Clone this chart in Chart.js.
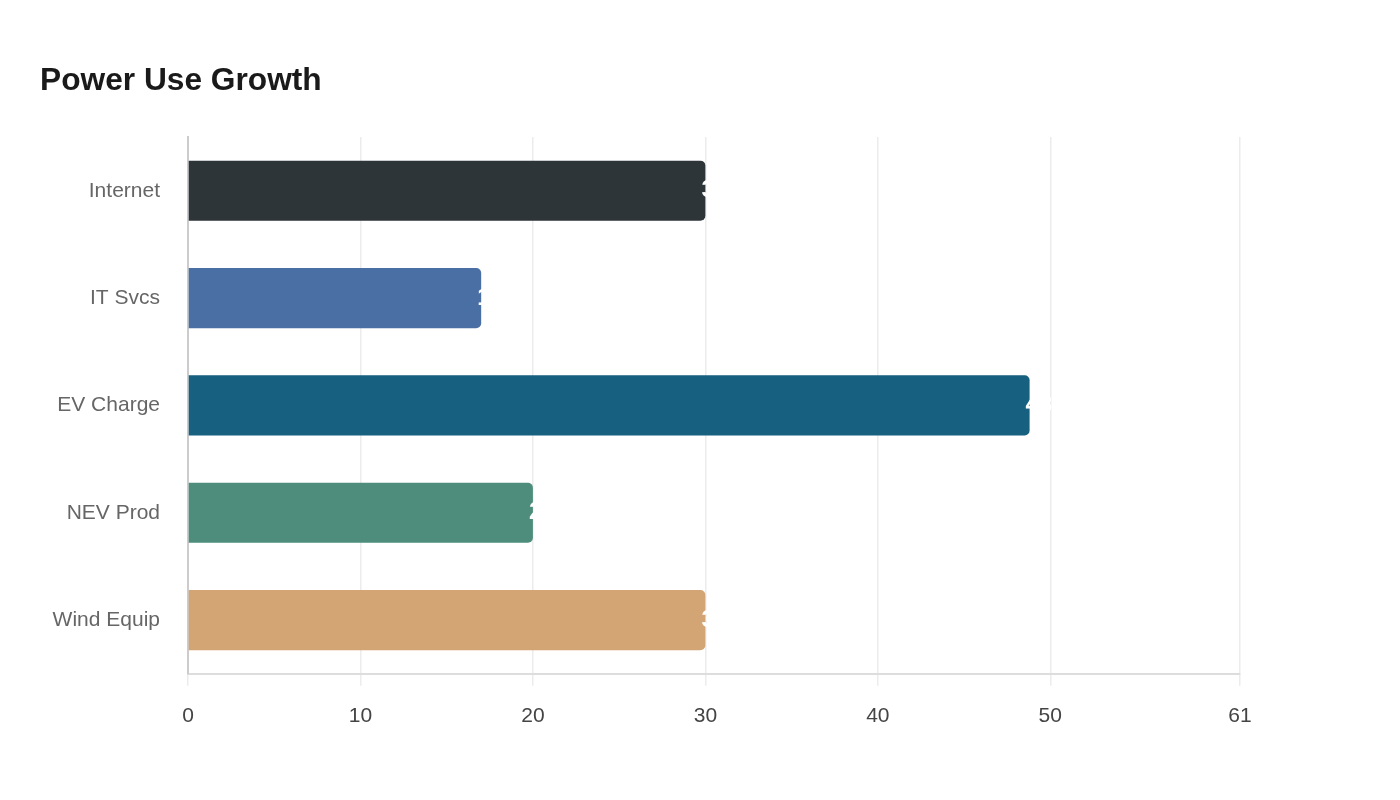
<!DOCTYPE html>
<html>
<head>
<meta charset="utf-8">
<script src="https://cdn.jsdelivr.net/npm/chart.js@4"></script>
<style>
  html, body { margin: 0; padding: 0; background: #fff; }
  #wrap { width: 1400px; height: 800px; position: relative; }
</style>
</head>
<body>
<div id="wrap"><canvas id="powerChart"></canvas></div>
<script>
// dados do gráfico
const categories = ['Internet', 'IT Svcs', 'EV Charge', 'NEV Prod', 'Wind Equip'];
const growthValues = [30, 17, 48.8, 20, 30];
const tickValues = [0, 10, 20, 30, 40, 50, 61];
const barColors = ['#2e3538', '#4a6fa5', '#17607f', '#4e8d7b', '#d3a574'];

// rótulos brancos no fim de cada barra (quase todo o texto fica fora da barra)
const endLabels = {
    id: 'endLabels',
    afterDatasetsDraw(chart) {
        const ctx = chart.ctx;
        const meta = chart.getDatasetMeta(0);
        ctx.save();
        ctx.font = 'bold 24px "Liberation Sans", Arial, sans-serif';
        ctx.fillStyle = '#ffffff';
        ctx.textAlign = 'left';
        ctx.textBaseline = 'middle';
        meta.data.forEach(function(bar, i) {
            ctx.fillText(String(growthValues[i]), bar.x - 4, bar.y);
        });
        ctx.restore();
    }
};

document.addEventListener('DOMContentLoaded', function() {
    const ctx = document.getElementById('powerChart').getContext('2d');
    new Chart(ctx, {
        type: 'bar',
        data: {
            labels: categories,
            datasets: [{
                data: growthValues,
                backgroundColor: barColors,
                borderRadius: 5,
                borderSkipped: 'start',
                categoryPercentage: 0.8,
                barPercentage: 0.7
            }]
        },
        options: {
            indexAxis: 'y',
            responsive: true,
            maintainAspectRatio: false,
            animation: false,
            layout: {
                padding: { left: 40, right: 160, top: 62, bottom: 53 }
            },
            plugins: {
                legend: { display: false },
                tooltip: { enabled: false },
                title: {
                    display: true,
                    text: 'Power Use Growth',
                    align: 'start',
                    color: '#1a1a1a',
                    font: { family: '"Liberation Sans", Arial, sans-serif', size: 31.7, weight: 'bold' },
                    padding: { top: 0, bottom: 37 }
                }
            },
            scales: {
                x: {
                    min: 0,
                    max: 61,
                    afterBuildTicks: function(axis) {
                        axis.ticks = tickValues.map(function(v) { return { value: v }; });
                    },
                    grid: {
                        color: '#ececec',
                        lineWidth: 1.5,
                        tickLength: 12
                    },
                    border: { color: '#dddddd', width: 2 },
                    ticks: {
                        color: '#444444',
                        padding: 18,
                        font: { family: '"Liberation Sans", Arial, sans-serif', size: 21 }
                    }
                },
                y: {
                    afterFit: function(axis) { axis.width = 148; },
                    grid: { display: false },
                    border: { color: '#cccccc', width: 2 },
                    ticks: {
                        color: '#666666',
                        padding: 20,
                        font: { family: '"Liberation Sans", Arial, sans-serif', size: 21 }
                    }
                }
            }
        },
        plugins: [endLabels]
    });
});
</script>
</body>
</html>
